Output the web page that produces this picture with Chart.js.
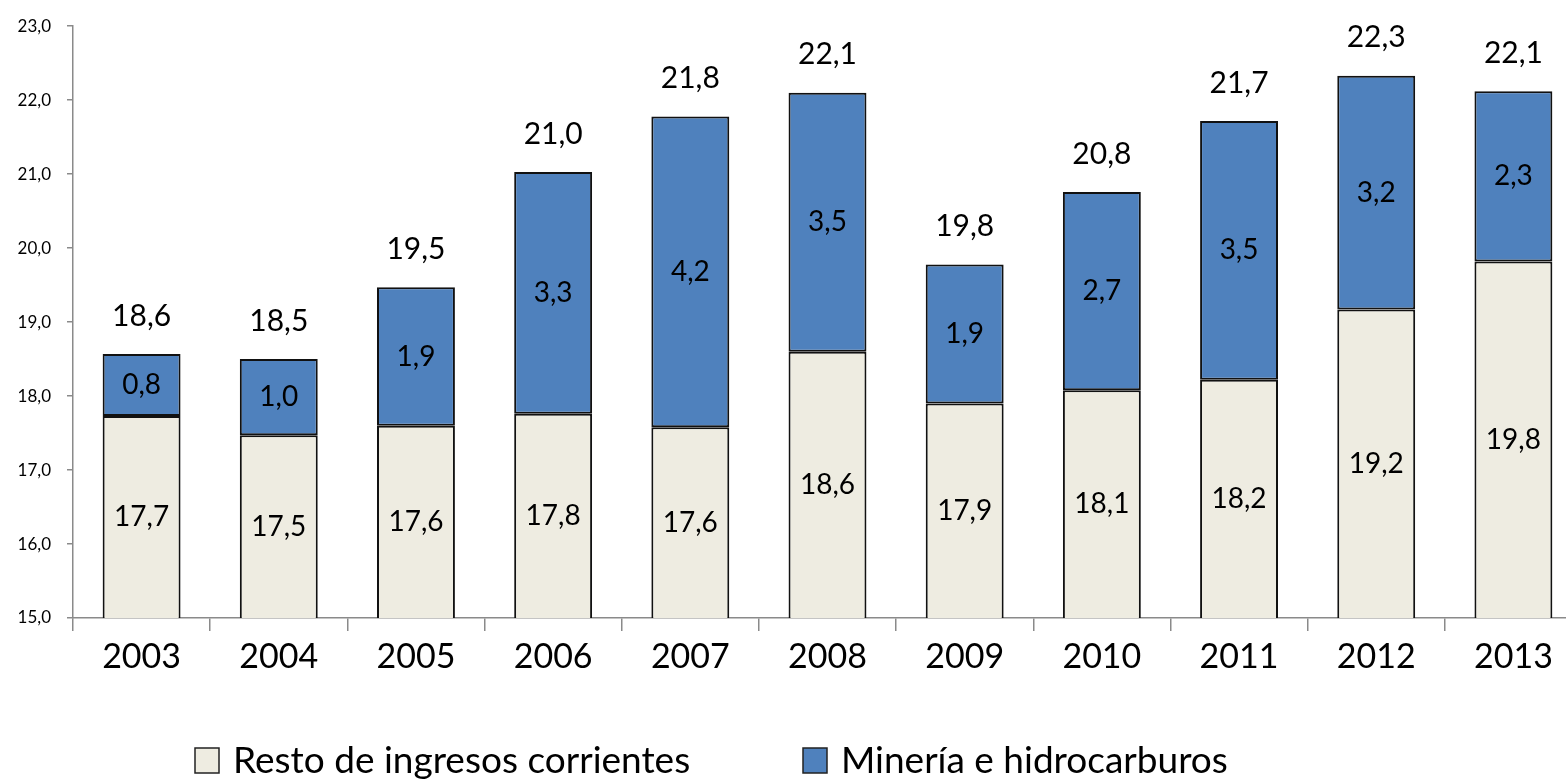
<!DOCTYPE html>
<html>
<head>
<meta charset="utf-8">
<script src="https://cdn.jsdelivr.net/npm/chart.js@4.4.1/dist/chart.umd.min.js"></script>
<style>
  html, body { margin: 0; padding: 0; background: #fff; overflow: hidden; }
  #wrap { width: 1582px; height: 781px; position: relative; }
</style>
</head>
<body>
<div id="wrap"><canvas id="chart"></canvas></div>
<script>
const years = ["2003", "2004", "2005", "2006", "2007", "2008", "2009", "2010", "2011", "2012", "2013"];
const restoIngresos = [17.73, 17.47, 17.60, 17.76, 17.58, 18.60, 17.90, 18.08, 18.22, 19.17, 19.82];
const mineriaHidrocarburos = [0.84, 1.03, 1.87, 3.27, 4.20, 3.50, 1.88, 2.68, 3.50, 3.16, 2.30];
const seriesNames = ["Resto de ingresos corrientes", "Minería e hidrocarburos"];
const yMin = 15, yMax = 23, yStep = 1;

const FONT = "Lato";
const axisGray = "#8a8a8a";

function fmt(v) {
  return v.toFixed(1).replace(".", ",");
}

// labels inside each segment + total above each bar
const valueLabels = {
  id: "valueLabels",
  afterDatasetsDraw(chart) {
    const { ctx, chartArea } = chart;
    ctx.save();
    ctx.fillStyle = "#000";
    ctx.textAlign = "center";
    ctx.textBaseline = "middle";
    ctx.font = "28px " + FONT;
    chart.data.datasets.forEach((ds, i) => {
      chart.getDatasetMeta(i).data.forEach((bar, j) => {
        const top = Math.max(bar.y, chartArea.top);
        const bottom = Math.min(bar.base, chartArea.bottom);
        ctx.fillText(fmt(ds.data[j]), bar.x, (top + bottom) / 2);
      });
    });
    ctx.font = "30px " + FONT;
    chart.getDatasetMeta(1).data.forEach((bar, j) => {
      ctx.fillText(fmt(restoIngresos[j] + mineriaHidrocarburos[j]), bar.x, bar.y - 38);
    });
    ctx.restore();
  }
};

// legend drawn by hand so it can sit off-centre like the original
const bottomLegend = {
  id: "bottomLegend",
  afterDraw(chart) {
    const { ctx } = chart;
    const boxX = [195, 803];
    ctx.save();
    ctx.font = "37px " + FONT;
    ctx.textBaseline = "alphabetic";
    ctx.textAlign = "left";
    chart.data.datasets.forEach((ds, i) => {
      ctx.fillStyle = ds.backgroundColor;
      ctx.fillRect(boxX[i], 748, 24, 25);
      ctx.strokeStyle = "#222";
      ctx.lineWidth = 1.5;
      ctx.strokeRect(boxX[i], 748, 24, 25);
      ctx.fillStyle = "#000";
      ctx.fillText(ds.label, boxX[i] + 38, 773);
    });
    ctx.restore();
  }
};

const ctx = document.getElementById("chart").getContext("2d");

window.myChart = new Chart(ctx, {
  type: "bar",
  data: {
    labels: years,
    datasets: [
      {
        label: seriesNames[0],
        data: restoIngresos,
        backgroundColor: "#EEECE1",
        borderColor: "#111",
        borderWidth: 2,
        borderSkipped: false
      },
      {
        label: seriesNames[1],
        data: mineriaHidrocarburos,
        backgroundColor: "#4F81BD",
        borderColor: "#111",
        borderWidth: 2,
        borderSkipped: false
      }
    ]
  },
  options: {
    responsive: true,
    maintainAspectRatio: false,
    animation: false,
    layout: { padding: { top: 23, right: 0, bottom: 0, left: 0 } },
    datasets: { bar: { barPercentage: 0.568, categoryPercentage: 1 } },
    plugins: {
      legend: { display: false },
      tooltip: { enabled: false }
    },
    scales: {
      x: {
        stacked: true,
        afterFit: (s) => { s.height = 163; },
        border: { display: true, color: axisGray, width: 1.5 },
        grid: { offset: true, drawOnChartArea: false, drawTicks: true, tickLength: 13, color: axisGray, lineWidth: 1.5 },
        ticks: { color: "#000", font: { family: FONT, size: 34 }, padding: 6, maxRotation: 0 }
      },
      y: {
        stacked: true,
        min: yMin,
        max: yMax,
        afterFit: (s) => { s.width = 73; },
        border: { display: true, color: axisGray, width: 1.5 },
        grid: { drawOnChartArea: false, drawTicks: true, tickLength: 6, color: axisGray, lineWidth: 1.5 },
        ticks: {
          stepSize: yStep,
          color: "#000",
          padding: 16,
          font: { family: FONT, size: 17 },
          callback: (v) => fmt(v)
        }
      }
    }
  },
  plugins: [valueLabels, bottomLegend]
});
</script>
</body>
</html>
